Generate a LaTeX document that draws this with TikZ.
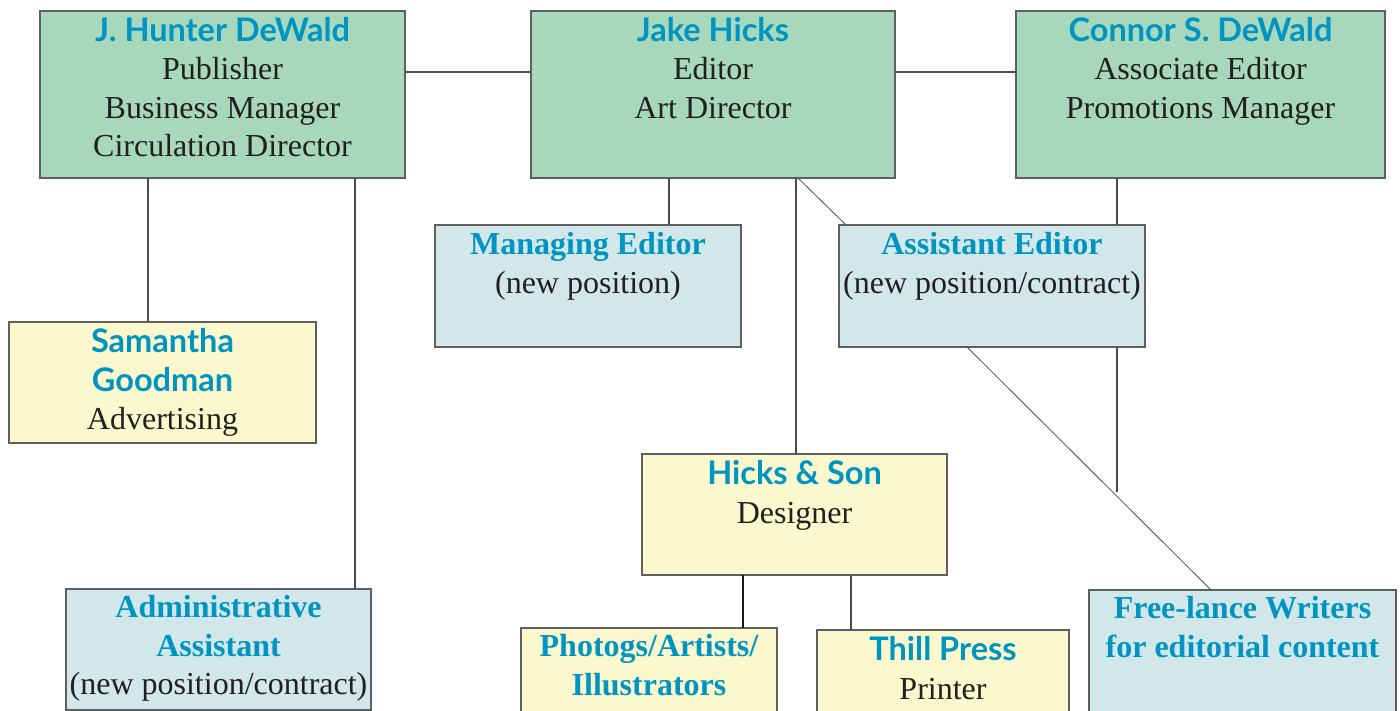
\documentclass[tikz,border=0pt]{standalone}
\usepackage{fontspec}
\setmainfont{Liberation Serif}
\newfontfamily\nmfont{Lato}
\usetikzlibrary{calc}
\definecolor{nameblue}{RGB}{0,148,194}
\definecolor{boxgreen}{RGB}{168,216,187}
\definecolor{boxblue}{RGB}{209,231,233}
\definecolor{boxyellow}{RGB}{251,248,206}
\definecolor{edgegray}{RGB}{95,95,95}
\definecolor{inkblack}{RGB}{35,31,32}
\newcommand{\nm}[1]{{\nmfont\bfseries\fontsize{32.5}{38.5}\selectfont\color{nameblue}#1}}
\newcommand{\tl}[1]{{\bfseries\color{nameblue}#1}}
\begin{document}
\begin{tikzpicture}[x=1pt,y=-1pt,
  box/.style={draw=edgegray, line width=1.3pt, anchor=north west, inner sep=0pt, outer sep=0pt},
  gbox/.style={box, fill=boxgreen},
  bbox/.style={box, fill=boxblue},
  ybox/.style={box, fill=boxyellow},
  txt/.style={anchor=north, inner sep=0pt, align=center, text=inkblack, font=\fontsize{32}{38.5}\selectfont},
  conn/.style={draw=black!70, line width=1.1pt},
  thickconn/.style={draw=black!90, line width=2.6pt}]
\useasboundingbox (0,0) rectangle (1400,711);
\clip (0,0) rectangle (1400,711);
\fill[white] (0,0) rectangle (1400,711);

% boxes
\node[gbox, minimum width=365pt, minimum height=167pt] (hunter) at (40,11) {};
\node[gbox, minimum width=364pt, minimum height=167pt] (jake) at (531,11) {};
\node[gbox, minimum width=369pt, minimum height=167pt] (connor) at (1016,11) {};
\node[bbox, minimum width=306pt, minimum height=122pt] (managing) at (435,225) {};
\node[bbox, minimum width=306pt, minimum height=122pt] (assistant) at (839,225) {};
\node[ybox, minimum width=307pt, minimum height=121pt] (samantha) at (9,322) {};
\node[bbox, minimum width=305pt, minimum height=121pt] (admin) at (66,589) {};
\node[ybox, minimum width=305pt, minimum height=121pt] (hicks) at (642,454) {};
\node[ybox, minimum width=256pt, minimum height=130pt] (photogs) at (521,628) {};
\node[ybox, minimum width=252pt, minimum height=130pt] (thill) at (817,630) {};
\node[bbox, minimum width=307pt, minimum height=140pt] (freelance) at (1089,590) {};

% texts
\node[txt] (hunterT) at ([yshift=-6pt]hunter.north) {\nm{J. Hunter DeWald}\\Publisher\\Business Manager\\Circulation Director};
\node[txt] (jakeT) at ([yshift=-6pt]jake.north) {\nm{Jake Hicks}\\Editor\\Art Director};
\node[txt] (connorT) at ([yshift=-6pt]connor.north) {\nm{Connor S. DeWald}\\Associate Editor\\Promotions Manager};
\node[txt] (managingT) at ([yshift=-7.5pt]managing.north) {\tl{Managing Editor}\\(new position)};
\node[txt] (assistantT) at ([yshift=-7.5pt]assistant.north) {\tl{Assistant Editor}\\(new position/contract)};
\node[txt] (samanthaT) at ([yshift=-6.5pt]samantha.north) {\nm{Samantha}\\\nm{Goodman}\\Advertising};
\node[txt] (adminT) at ([yshift=-6.5pt]admin.north) {\tl{Administrative}\\\tl{Assistant}\\(new position/contract)};
\node[txt] (hicksT) at ([yshift=-6.5pt]hicks.north) {\nm{Hicks \& Son}\\Designer};
\node[txt] (photogsT) at ([yshift=-6.5pt]photogs.north) {\tl{Photogs/Artists/}\\\tl{Illustrators}};
\node[txt] (thillT) at ([yshift=-6.5pt]thill.north) {\nm{Thill Press}\\Printer};
\node[txt] (freelanceT) at ([yshift=-6.5pt]freelance.north) {\tl{Free-lance Writers}\\\tl{for editorial content}};

% connectors
\draw[conn] ([yshift=-61pt]hunter.north east) -- ([yshift=-61pt]jake.north west);
\draw[conn] ([yshift=-61pt]jake.north east) -- ([yshift=-61pt]connor.north west);
\draw[conn] ([xshift=108pt]hunter.south west) -- ([xshift=108pt]hunter.south west |- samantha.north);
\draw[conn] ([xshift=315pt]hunter.south west) -- ([xshift=315pt]hunter.south west |- admin.north);
\draw[conn] ([xshift=138pt]jake.south west) -- ([xshift=138pt]jake.south west |- managing.north);
\draw[conn] ([xshift=265pt]jake.south west) -- ([xshift=265pt]jake.south west |- hicks.north);
\draw[conn, line width=0.8pt] ([xshift=267pt]jake.south west) -- ([xshift=7pt]assistant.north west);
\draw[conn] ([xshift=101pt]connor.south west) -- ([xshift=101pt]connor.south west |- assistant.north);
\coordinate (aend) at (1117,492);
\draw[conn] ([xshift=278pt]assistant.south west) -- (aend);
\draw[conn, line width=0.8pt] ([xshift=128pt]assistant.south west) -- ([xshift=122pt]freelance.north west);
\draw[thickconn] ([xshift=101pt]hicks.south west) -- ([xshift=101pt]hicks.south west |- photogs.north);
\draw[conn] ([xshift=209pt]hicks.south west) -- ([xshift=209pt]hicks.south west |- thill.north);
\end{tikzpicture}
\end{document}
